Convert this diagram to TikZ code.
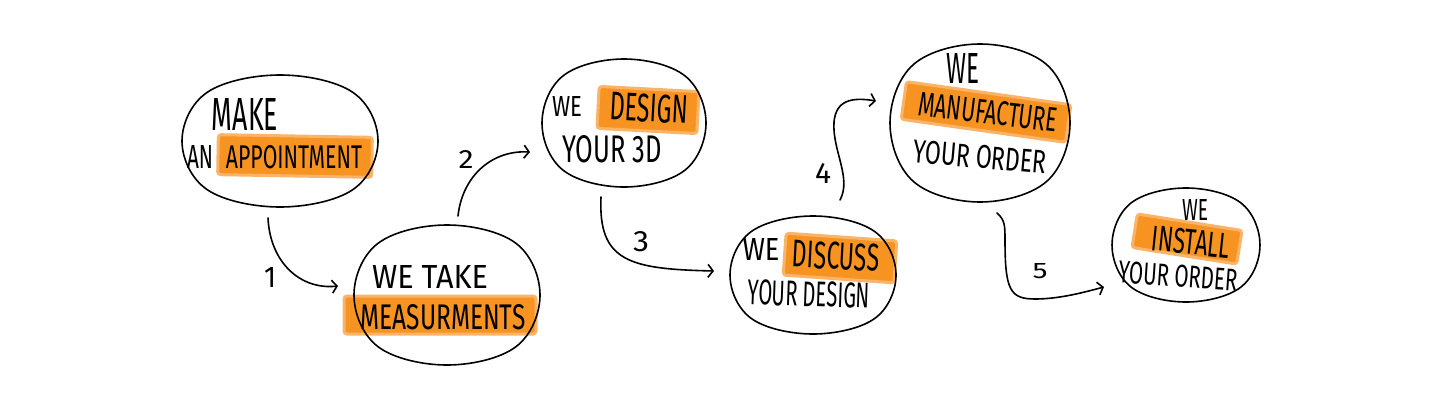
\documentclass[tikz,border=0pt]{standalone}
\usepackage{fontspec}
\usepackage{graphicx}
\usetikzlibrary{arrows.meta,shapes.geometric,calc}
\newfontfamily\hand{Fira Sans}[FakeStretch=0.6]
\definecolor{hlorange}{RGB}{247,148,33}
\definecolor{hledge}{RGB}{249,180,105}
\newcommand\hw[3]{\resizebox{#1pt}{#2pt}{\hand\fontsize{20}{20}\selectfont #3}}
\newcommand\blobdraw[3]{\begin{scope}[shift={(#1.center)}]
  \draw[outline] plot[smooth cycle,tension=0.62] coordinates {(#2,0) (0.74*#2,0.74*#3) (0,#3) (-0.74*#2,0.74*#3) (-#2,0) (-0.74*#2,-0.74*#3) (0,-#3) (0.74*#2,-0.74*#3)};
\end{scope}}
\begin{document}
\begin{tikzpicture}[x=1pt,y=-1pt,
  blob/.style={ellipse, inner sep=0pt},
  outline/.style={draw=black, line width=1.6pt, line cap=round, line join=round},
  hl/.style={fill=hlorange, draw=hledge, line width=3pt, rounded corners=3pt, inner sep=0pt},
  lbl/.style={inner sep=0pt, text=black},
  conn/.style={outline, -{Straight Barb[length=5pt,width=13pt]}}]

\useasboundingbox[fill=white] (0,0) rectangle (1440,410);

% blob nodes (shape holders)
\node[blob, minimum width=196pt, minimum height=132pt] (b1) at (280,141) {};
\node[blob, minimum width=186pt, minimum height=140pt] (b2) at (447,295) {};
\node[blob, minimum width=164pt, minimum height=128pt] (b3) at (624,123) {};
\node[blob, minimum width=166pt, minimum height=120pt] (b4) at (813,275) {};
\node[blob, minimum width=180pt, minimum height=158pt] (b5) at (980,123) {};
\node[blob, minimum width=148pt, minimum height=114pt] (b6) at (1186,245) {};

% highlights
\node[hl, minimum width=154pt, minimum height=40pt, rotate=-1] (h1) at (295,156) {};
\node[hl, minimum width=192pt, minimum height=38pt] (h2) at (440,315) {};
\node[hl, minimum width=100pt, minimum height=42pt, rotate=-3] (h3) at (648,110) {};
\node[hl, minimum width=111pt, minimum height=42pt, rotate=-4] (h4) at (840,258) {};
\node[hl, minimum width=166pt, minimum height=38pt, rotate=-8] (h5) at (986,112) {};
\node[hl, minimum width=106pt, minimum height=34pt, rotate=-9] (h6) at (1187,239) {};

% outlines
\blobdraw{b1}{98}{66}
\blobdraw{b2}{93}{70}
\blobdraw{b3}{82}{64}
\blobdraw{b4}{83}{59}
\blobdraw{b5}{90}{79}
\blobdraw{b6}{74}{57}

% texts
\node[lbl] (t1a) at (245,114) {\hw{66}{32}{MAKE}};
\node[lbl] (t1b) at (200,157) {\hw{26}{23}{AN}};
\node[lbl] (t1c) at (294,157) {\hw{136}{23}{APPOINTMENT}};
\node[lbl] (t2a) at (430,277) {\hw{116}{23}{WE TAKE}};
\node[lbl] (t2b) at (443,317) {\hw{165}{25}{MEASURMENTS}};
\node[lbl] (t3a) at (567,106) {\hw{30}{20}{WE}};
\node[lbl, rotate=-3] (t3b) at (649,108) {\hw{78}{28}{DESIGN}};
\node[lbl] (t3c) at (612,149) {\hw{99}{27}{YOUR 3D}};
\node[lbl] (t4a) at (761,249) {\hw{37}{22}{WE}};
\node[lbl, rotate=-3] (t4b) at (836,256) {\hw{87}{27}{DISCUSS}};
\node[lbl, rotate=-2] (t4c) at (809,294) {\hw{122}{25}{YOUR DESIGN}};
\node[lbl] (t5a) at (963,68) {\hw{33}{30}{WE}};
\node[lbl, rotate=-7] (t5b) at (988,112) {\hw{140}{24}{MANUFACTURE}};
\node[lbl, rotate=-5] (t5c) at (980,157) {\hw{134}{23}{YOUR ORDER}};
\node[lbl] (t6a) at (1195,210) {\hw{26}{21}{WE}};
\node[lbl, rotate=-6] (t6b) at (1191,242) {\hw{78}{25}{INSTALL}};
\node[lbl, rotate=-4] (t6c) at (1178,276) {\hw{119}{22}{YOUR ORDER}};

% step numbers
\node[lbl] (n1) at (270,277) {\hw{12}{20}{1}};
\node[lbl] (n2) at (466,159) {\hw{15}{18}{2}};
\node[lbl] (n3) at (641,242) {\hw{16}{20}{3}};
\node[lbl] (n4) at (823,173) {\hw{16}{20}{4}};
\node[lbl] (n5) at (1040,271) {\hw{15}{15}{5}};

% connector end points
\coordinate (c1s) at (268,218); \coordinate (c1e) at (338,286);
\coordinate (c2s) at (458,216); \coordinate (c2e) at (530,152);
\coordinate (c3s) at (601,197); \coordinate (c3e) at (714,271);
\coordinate (c4s) at (840,200); \coordinate (c4e) at (876,101);
\coordinate (c5s) at (997,213); \coordinate (c5e) at (1104,287);

\draw[conn] (c1s) .. controls (270,262) and (300,290) .. (c1e);
\draw[conn] (c2s) .. controls (462,178) and (490,150) .. (c2e);
\draw[conn] (c3s) .. controls (598,262) and (630,269) .. (c3e);
\draw[conn] (c4s) .. controls (852,178) and (832,150) .. (834,122) .. controls (836,100) and (852,97) .. (c4e);
\draw[conn] (c5s) .. controls (1005,220) and (1005,226) .. (1005,240) .. controls (1005,290) and (1010,299) .. (1035,299) .. controls (1060,299) and (1085,292) .. (c5e);
\end{tikzpicture}
\end{document}
